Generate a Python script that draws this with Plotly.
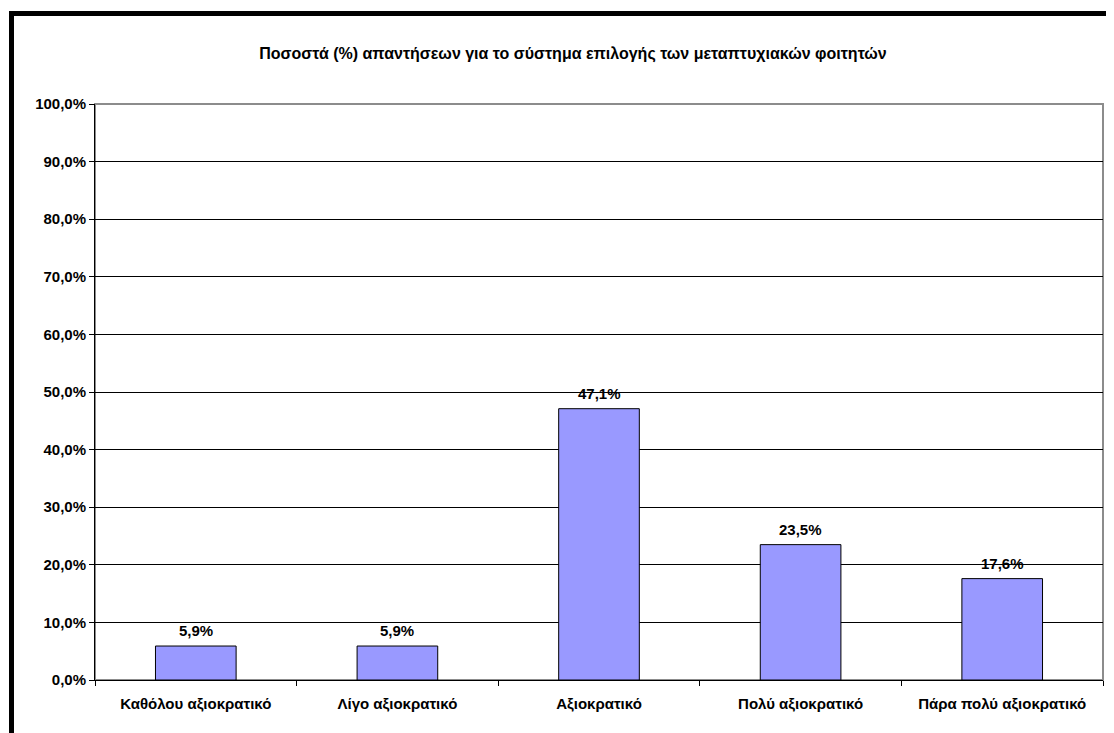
import plotly.graph_objects as go

# data
categories = ["Καθόλου αξιοκρατικό", "Λίγο αξιοκρατικό", "Αξιοκρατικό",
              "Πολύ αξιοκρατικό", "Πάρα πολύ αξιοκρατικό"]
percentages = [0.059, 0.059, 0.471, 0.235, 0.176]

title_text = "Ποσοστά (%) απαντήσεων για το σύστημα επιλογής των μεταπτυχιακών φοιτητών"

W, H = 1106, 725
m_l, m_r, m_t, m_b = 87, 11, 96, 53
pw, ph = W - m_l - m_r, H - m_t - m_b

family = "Liberation Sans, Arial, sans-serif"
font = dict(family=family, size=15, color="black", weight="bold")

fig = go.Figure()

fig.add_trace(go.Bar(
    x=categories,
    y=percentages,
    marker=dict(color="#9999FF", line=dict(color="black", width=1)),
    showlegend=False,
))

# value labels above the bars
for cat, val in zip(categories, percentages):
    fig.add_annotation(
        x=cat, y=val, yanchor="bottom", yshift=5,
        text=f"{val * 100:.1f}".replace(".", ",") + "%",
        showarrow=False, font=font,
    )

# grey frame of the plot area
fig.add_shape(type="rect", xref="paper", yref="paper",
              x0=0, x1=1, y0=0, y1=1,
              line=dict(color="#8c8c8c", width=2), layer="below")

# thick outer chart border
fig.add_shape(type="rect", xref="paper", yref="paper",
              x0=(3.5 - m_l) / pw, x1=1 + (m_r + 20) / pw,
              y0=-(m_b + 20) / ph, y1=1 + (m_t - 5.5) / ph,
              line=dict(color="black", width=5))

fig.update_layout(
    width=W, height=H,
    margin=dict(l=m_l, r=m_r, t=m_t, b=m_b),
    paper_bgcolor="white",
    plot_bgcolor="white",
    bargap=0.6,
    font=font,
    title=dict(text=title_text, x=(573 - 8) / W, xanchor="center",
               y=(H - 45) / H, yanchor="middle",
               font=dict(family=family, size=16, color="black", weight="bold")),
)

fig.update_xaxes(
    showline=True, linecolor="black", linewidth=1,
    ticks="outside", tickson="boundaries", ticklen=5, tickcolor="black",
    ticklabelstandoff=10,
    showgrid=False,
    tickfont=font,
)

fig.update_yaxes(
    range=[0, 1.0], dtick=0.1, tickformat=".1%",
    showline=True, linecolor="black", linewidth=1,
    ticks="outside", ticklen=5, tickcolor="black",
    showgrid=True, gridcolor="black", gridwidth=1,
    zeroline=False,
    tickfont=font,
)
fig.update_layout(separators=",.")

fig.write_html("out.html")
